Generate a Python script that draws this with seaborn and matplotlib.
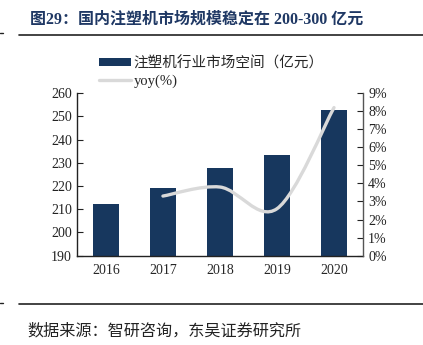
import numpy as np
import pandas as pd
import matplotlib
matplotlib.use("Agg")
import matplotlib.pyplot as plt
from matplotlib.path import Path
from matplotlib.patches import PathPatch, Patch
from matplotlib.lines import Line2D
import seaborn as sns

years = ["2016", "2017", "2018", "2019", "2020"]
market = [212.3, 219.3, 227.6, 233.5, 252.7]
yoy_years = ["2017", "2018", "2019", "2020"]
yoy = [3.3, 3.8, 2.6, 8.2]
left_ticks = [190, 200, 210, 220, 230, 240, 250, 260]
right_ticks = [0, 1, 2, 3, 4, 5, 6, 7, 8, 9]

title = "图29：国内注塑机市场规模稳定在 200-300 亿元"
source = "数据来源：智研咨询，东吴证券研究所"
bar_label = "注塑机行业市场空间（亿元）"
line_label = "yoy(%)"

sns.set_style("white")
plt.rcParams["font.family"] = ["Liberation Serif", "Noto Sans CJK SC", "DejaVu Sans"]

BAR = "#17375E"
LINE = "#D9D9D9"
NAVY = "#1F3864"

fig = plt.figure(figsize=(4.23, 3.45), dpi=100)
ax = fig.add_axes([0.183, 0.259, 0.674, 0.471])

df = pd.DataFrame({"year": years, "value": market})
sns.barplot(data=df, x="year", y="value", order=years, color=BAR, width=0.45,
            ax=ax, saturation=1, edgecolor="none")
ax.set_ylim(190, 260)
ax.set_yticks(left_ticks)
ax.set_xlim(-0.5, len(years) - 0.5)
ax.set_xlabel("")
ax.set_ylabel("")
ax.tick_params(axis="y", direction="in", length=4, width=0.8, labelsize=10, pad=4, colors="#222222")
ax.tick_params(axis="x", which="major", length=0, labelsize=10, pad=6)
ax.set_xticks([i + 0.5 for i in range(len(years) - 1)], minor=True)
ax.tick_params(axis="x", which="minor", direction="in", length=4, width=0.8, color="#333333")
for s in ["top", "right"]:
    ax.spines[s].set_visible(False)
for s in ["left", "bottom"]:
    ax.spines[s].set_color("#222222")
    ax.spines[s].set_linewidth(1.0)

ax2 = ax.twinx()
ax2.set_ylim(0, 9)
ax2.set_yticks(right_ticks)
ax2.set_yticklabels([f"{t}%" for t in right_ticks])
ax2.tick_params(axis="y", direction="in", length=4, width=0.8, labelsize=10, pad=4, colors="#222222")
for s in ["top", "left", "bottom"]:
    ax2.spines[s].set_visible(False)
ax2.spines["right"].set_color("#555555")
ax2.spines["right"].set_linewidth(1.0)
ax2.grid(False)
ax.grid(False)

# smoothed line (Catmull-Rom style bezier through the data points)
xs = np.array([years.index(y) for y in yoy_years], dtype=float)
ys = np.array(yoy, dtype=float)
pts = np.column_stack([xs, ys])
ext = np.vstack([pts[0], pts, pts[-1]])
verts = [tuple(pts[0])]
codes = [Path.MOVETO]
for i in range(len(pts) - 1):
    p0, p1, p2, p3 = ext[i], ext[i + 1], ext[i + 2], ext[i + 3]
    c1 = p1 + (p2 - p0) / 6.0
    c2 = p2 - (p3 - p1) / 6.0
    verts += [tuple(c1), tuple(c2), tuple(p2)]
    codes += [Path.CURVE4] * 3
patch = PathPatch(Path(verts, codes), facecolor="none", edgecolor=LINE, lw=2.4,
                  capstyle="round", joinstyle="round", zorder=5)
ax2.add_patch(patch)

handles = [Patch(facecolor=BAR, edgecolor="none"),
           Line2D([0], [0], color=LINE, lw=2.4)]
leg = fig.legend(handles, [bar_label, line_label], loc="upper left",
                 bbox_to_anchor=(0.235, 0.838), frameon=False, fontsize=10.5,
                 handlelength=2.2, handleheight=0.45, handletextpad=0.15,
                 labelspacing=0.3, borderaxespad=0, borderpad=0)

fig.text(0.071, 0.942, title, fontsize=11.5, fontweight="bold", color=NAVY,
         va="center", ha="left",
         family=["Liberation Serif", "Noto Sans CJK SC", "DejaVu Sans"])
fig.add_artist(Line2D([19 / 423, 1.0], [1 - 35 / 345, 1 - 35 / 345], color="#222222", lw=1.2))
fig.add_artist(Line2D([0.0, 3 / 423], [1 - 33 / 345, 1 - 33 / 345], color="#222222", lw=1.0))
fig.add_artist(Line2D([19 / 423, 1.0], [1 - 304 / 345, 1 - 304 / 345], color="#222222", lw=1.2))
fig.add_artist(Line2D([0.0, 3 / 423], [1 - 303 / 345, 1 - 303 / 345], color="#222222", lw=1.0))
fig.text(0.066, 1 - 331 / 345, source, fontsize=11.6, color="#222222", va="center", ha="left",
         family=["Noto Sans CJK SC", "DejaVu Sans"])

fig.savefig("out.png", dpi=100)
